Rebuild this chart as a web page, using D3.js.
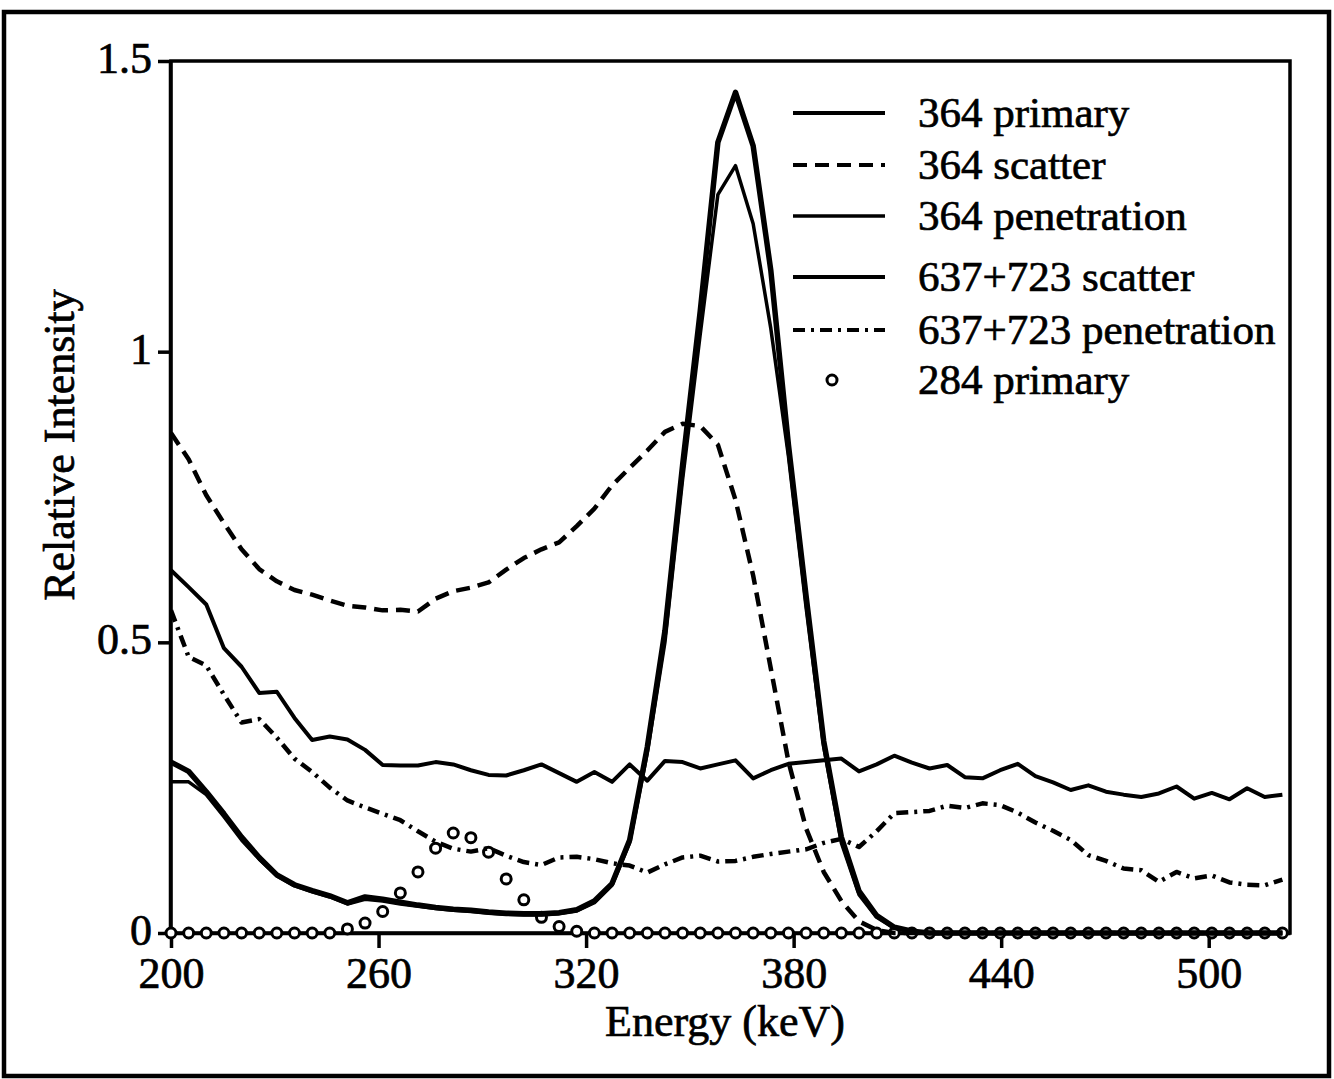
<!DOCTYPE html>
<html>
<head>
<meta charset="utf-8">
<script src="https://cdn.jsdelivr.net/npm/d3@7"></script>
<style>
  body { margin: 0; background: #fff; }
  svg { display: block; }
  text { stroke: #000; stroke-width: 0.7px; }
</style>
</head>
<body>
<svg id="G1"></svg>
<script>
//* Relative intensity vs energy *//

// energy of each channel (keV)
const ENERGY = [
  200.0, 205.1, 210.2, 215.3, 220.4, 225.5, 230.6, 235.7,
  240.8, 245.9, 251.0, 256.1, 261.2, 266.3, 271.4, 276.5,
  281.6, 286.7, 291.8, 296.9, 302.0, 307.1, 312.2, 317.3,
  322.4, 327.5, 332.6, 337.7, 342.8, 347.9, 353.0, 358.1,
  363.2, 368.3, 373.4, 378.5, 383.6, 388.7, 393.8, 398.9,
  404.0, 409.1, 414.2, 419.3, 424.4, 429.5, 434.6, 439.7,
  444.8, 449.9, 455.0, 460.1, 465.2, 470.3, 475.4, 480.5,
  485.6, 490.7, 495.8, 500.9, 506.0, 511.1, 516.2, 521.3
];

const PRIMARY_364 = [
  0.294, 0.278, 0.243, 0.205, 0.165, 0.130, 0.100, 0.083,
  0.073, 0.064, 0.052, 0.062, 0.058, 0.053, 0.048, 0.044,
  0.041, 0.039, 0.036, 0.034, 0.033, 0.033, 0.035, 0.040,
  0.055, 0.085, 0.160, 0.320, 0.520, 0.805, 1.070, 1.360,
  1.446, 1.354, 1.140, 0.840, 0.580, 0.330, 0.165, 0.072,
  0.030, 0.010, 0.003, 0, 0, 0, 0, 0,
  0, 0, 0, 0, 0, 0, 0, 0,
  0, 0, 0, 0, 0, 0, 0, 0
];

const SCATTER_364 = [
  0.860, 0.815, 0.753, 0.705, 0.660, 0.626, 0.605, 0.590,
  0.582, 0.572, 0.563, 0.560, 0.555, 0.556, 0.553, 0.575,
  0.588, 0.594, 0.603, 0.625, 0.645, 0.660, 0.672, 0.700,
  0.730, 0.770, 0.800, 0.830, 0.862, 0.876, 0.872, 0.840,
  0.745, 0.615, 0.455, 0.295, 0.180, 0.105, 0.055, 0.020,
  0.005, 0, 0, 0, 0, 0, 0, 0,
  0, 0, 0, 0, 0, 0, 0, 0,
  0, 0, 0, 0, 0, 0, 0, 0
];

const PENETRATION_364 = [
  0.260, 0.260, 0.238, 0.200, 0.160, 0.127, 0.098, 0.081,
  0.071, 0.062, 0.050, 0.058, 0.055, 0.050, 0.046, 0.042,
  0.039, 0.037, 0.034, 0.032, 0.031, 0.031, 0.033, 0.038,
  0.052, 0.082, 0.155, 0.310, 0.500, 0.780, 1.030, 1.270,
  1.320, 1.220, 1.040, 0.820, 0.560, 0.320, 0.155, 0.066,
  0.027, 0.008, 0.002, 0, 0, 0, 0, 0,
  0, 0, 0, 0, 0, 0, 0, 0,
  0, 0, 0, 0, 0, 0, 0, 0
];

const SCATTER_637_723 = [
  0.624, 0.595, 0.565, 0.490, 0.458, 0.413, 0.415, 0.370,
  0.332, 0.338, 0.333, 0.315, 0.289, 0.288, 0.288, 0.294,
  0.290, 0.280, 0.272, 0.271, 0.280, 0.290, 0.275, 0.260,
  0.277, 0.260, 0.290, 0.262, 0.296, 0.294, 0.283, 0.290,
  0.297, 0.266, 0.280, 0.291, 0.294, 0.297, 0.300, 0.278,
  0.290, 0.305, 0.293, 0.283, 0.289, 0.268, 0.266, 0.280,
  0.291, 0.270, 0.259, 0.246, 0.254, 0.243, 0.238, 0.234,
  0.240, 0.252, 0.231, 0.241, 0.230, 0.249, 0.234, 0.238
];

const PENETRATION_637_723 = [
  0.555, 0.475, 0.460, 0.410, 0.362, 0.368, 0.336, 0.300,
  0.277, 0.250, 0.228, 0.216, 0.205, 0.194, 0.175, 0.157,
  0.145, 0.140, 0.146, 0.133, 0.122, 0.117, 0.130, 0.131,
  0.127, 0.120, 0.116, 0.104, 0.118, 0.130, 0.133, 0.123,
  0.124, 0.131, 0.136, 0.140, 0.144, 0.155, 0.162, 0.148,
  0.175, 0.206, 0.208, 0.210, 0.219, 0.215, 0.223, 0.220,
  0.207, 0.190, 0.176, 0.160, 0.134, 0.124, 0.111, 0.108,
  0.088, 0.105, 0.094, 0.099, 0.087, 0.083, 0.082, 0.092
];

const PRIMARY_284 = [
  0, 0, 0, 0, 0, 0, 0, 0,
  0, 0, 0.007, 0.017, 0.037, 0.069, 0.105, 0.146,
  0.172, 0.164, 0.139, 0.093, 0.057, 0.027, 0.011, 0.003,
  0, 0, 0, 0, 0, 0, 0, 0,
  0, 0, 0, 0, 0, 0, 0, 0,
  0, 0, 0, 0, 0, 0, 0, 0,
  0, 0, 0, 0, 0, 0, 0, 0,
  0, 0, 0, 0, 0, 0, 0, 0
];

const SERIES_NAMES = [
  "364 primary", "364 scatter", "364 penetration",
  "637+723 scatter", "637+723 penetration", "284 primary"
];
const X_TICKS = [200, 260, 320, 380, 440, 500];
const Y_TICKS = [0, 0.5, 1, 1.5];

const WIDTH = 1334;
const HEIGHT = 1079;
const PLOT = { left: 171, right: 1290, top: 61, bottom: 933 };
const FONT = '"Liberation Serif", "DejaVu Serif", serif';

const svg = d3.select('#G1')
.attr('width', WIDTH)
.attr('height', HEIGHT)
;

//Outer frame
svg.append('rect')
.attr('x', 4).attr('y', 12)
.attr('width', 1325).attr('height', 1064)
.attr('fill', 'none')
.attr('stroke', '#000')
.attr('stroke-width', 4.5)
;

//Scales
const xScale = d3.scaleLinear().domain([200, 523.5]).range([PLOT.left, PLOT.right]);
const yScale = d3.scaleLinear().domain([0, 1.5]).range([PLOT.bottom, PLOT.top]);

const chart = svg.append('g');

//Plot box
chart.append('rect')
.attr('x', PLOT.left).attr('y', PLOT.top)
.attr('width', PLOT.right - PLOT.left).attr('height', PLOT.bottom - PLOT.top)
.attr('fill', 'none')
.attr('stroke', '#000')
.attr('stroke-width', 3.5)
;

//X axis
chart.append('g')
.attr('transform', `translate(0, ${PLOT.bottom})`)
.call(d3.axisBottom(xScale).tickValues(X_TICKS).tickSize(15).tickSizeOuter(0).tickPadding(9))
.attr('font-size', 44)
.attr('font-family', FONT)
.call(g => g.select('.domain').attr('stroke-width', 3.5))
.call(g => g.selectAll('.tick line').attr('stroke-width', 3.5))
.call(g => g.selectAll('.tick text').attr('fill', '#000'))
;

//Y axis
chart.append('g')
.attr('transform', `translate(${PLOT.left - 1}, 0)`)
.call(d3.axisLeft(yScale).tickValues(Y_TICKS).tickFormat(d => d).tickSize(12).tickSizeOuter(0).tickPadding(6))
.attr('font-size', 44)
.attr('font-family', FONT)
.call(g => g.select('.domain').attr('stroke-width', 3.5))
.call(g => g.selectAll('.tick line').attr('stroke-width', 3.5))
.call(g => g.selectAll('.tick text').attr('fill', '#000').attr('dy', '0.26em'))
;

//Axis titles
svg.append('text')
.attr('x', 725).attr('y', 1036)
.attr('text-anchor', 'middle')
.attr('font-family', FONT)
.attr('font-size', 44)
.text('Energy (keV)');

svg.append('text')
.attr('transform', 'translate(74, 445) rotate(-90)')
.attr('text-anchor', 'middle')
.attr('font-family', FONT)
.attr('font-size', 44)
.text('Relative Intensity');

//Series styles
const LINES = [
  { name: SERIES_NAMES[0], values: PRIMARY_364, width: 5.5, dash: null },
  { name: SERIES_NAMES[1], values: SCATTER_364, width: 4.5, dash: '14,8' },
  { name: SERIES_NAMES[2], values: PENETRATION_364, width: 3.5, dash: null },
  { name: SERIES_NAMES[3], values: SCATTER_637_723, width: 4, dash: null },
  { name: SERIES_NAMES[4], values: PENETRATION_637_723, width: 4.5, dash: '12,6,3,6' }
];

const line = d3.line()
.x((d, i) => xScale(ENERGY[i]))
.y(d => yScale(d));

//Draw circles (284 primary)
chart.selectAll('.dot')
.data(PRIMARY_284)
.enter()
.append('circle')
.classed('dot', true)
.attr('cx', (d, i) => xScale(ENERGY[i]))
.attr('cy', d => yScale(d))
.attr('r', 5)
.attr('fill', '#fff')
.attr('stroke', '#000')
.attr('stroke-width', 3)
;

//Draw lines
chart.selectAll('.series')
.data(LINES)
.enter()
.append('path')
.classed('series', true)
.attr('d', d => line(d.values))
.attr('fill', 'none')
.attr('stroke', '#000')
.attr('stroke-width', d => d.width)
.attr('stroke-dasharray', d => d.dash)
.attr('stroke-linejoin', 'round')
;

//Legend
const LEGEND_Y = [113, 165, 216, 277, 330, 380];
const legend = svg.append('g');

legend.selectAll('.key')
.data(LINES)
.enter()
.append('line')
.classed('key', true)
.attr('x1', 793).attr('x2', 885)
.attr('y1', (d, i) => LEGEND_Y[i]).attr('y2', (d, i) => LEGEND_Y[i])
.attr('stroke', '#000')
.attr('stroke-width', d => Math.min(d.width, 4))
.attr('stroke-dasharray', d => d.dash)
;

legend.append('circle')
.attr('cx', 832).attr('cy', LEGEND_Y[5])
.attr('r', 5)
.attr('fill', '#fff')
.attr('stroke', '#000')
.attr('stroke-width', 3)
;

legend.selectAll('.label')
.data(SERIES_NAMES)
.enter()
.append('text')
.classed('label', true)
.attr('x', 918)
.attr('y', (d, i) => LEGEND_Y[i] + 14)
.attr('font-family', FONT)
.attr('font-size', 43)
.text(d => d)
;
</script>
</body>
</html>
